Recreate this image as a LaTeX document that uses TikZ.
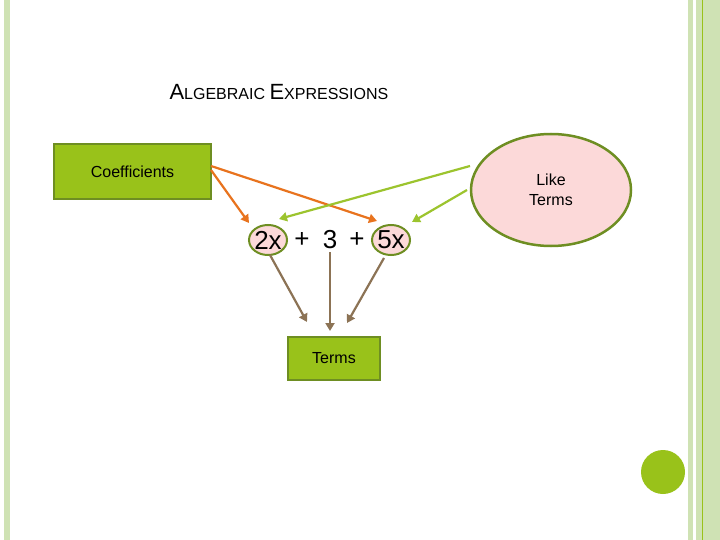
\documentclass[tikz,border=0pt]{standalone}
\usepackage{fontspec}
\setmainfont{Liberation Sans}
\usetikzlibrary{arrows.meta,shapes.geometric}
\definecolor{pg}{HTML}{CFE2B4}
\definecolor{lg}{HTML}{99C21A}
\definecolor{dg}{HTML}{6E8E22}
\definecolor{pk}{HTML}{FCD9D9}
\definecolor{og}{HTML}{E8731E}
\definecolor{ag}{HTML}{9CC42E}
\definecolor{br}{HTML}{8C7355}
\begin{document}
\begin{tikzpicture}[x=1pt,y=-1pt,
 gbox/.style={draw=dg,line width=2pt,fill=lg,inner sep=0pt,font=\fontsize{16}{18}\selectfont},
 ring/.style={draw=dg,line width=2.5pt,fill=pk,ellipse},
 oarr/.style={draw=og,line width=2.2pt,-{Triangle[length=8pt,width=9pt]}},
 garr/.style={draw=ag,line width=2.2pt,-{Triangle[length=8pt,width=9pt]}},
 barr/.style={draw=br,line width=2.2pt,-{Triangle[length=8pt,width=9pt]}}]
\useasboundingbox (0,0) rectangle (720,540);
\fill[white] (0,0) rectangle (720,540);
\fill[pg] (4,0) rectangle (10,540);
\fill[pg] (688,0) rectangle (693,540);
\fill[pg] (696,0) rectangle (720,540);
\draw[lg,line width=1pt] (702,0) -- (702,540);
\fill[lg] (663,472) circle (22);
\node[anchor=west] (title) at (166,92) {\fontsize{22}{24}\selectfont A\fontsize{16}{18}\selectfont LGEBRAIC \fontsize{22}{24}\selectfont E\fontsize{16}{18}\selectfont XPRESSIONS};
\node[gbox,minimum width=157pt,minimum height=55pt] (coef) at (132.5,171.5) {Coefficients};
\node[ring,minimum width=160pt,minimum height=112pt,align=center,font=\fontsize{16}{20}\selectfont] (like) at (551,190) {Like\\Terms};
\node[ring,line width=2pt,minimum width=38pt,minimum height=30pt,inner sep=0pt] (e2) at (268,240) {};
\node[ring,line width=2pt,minimum width=38pt,minimum height=30pt,inner sep=0pt] (e5) at (391,240) {};
\node[font=\fontsize{26}{28}\selectfont] (t2) at (268,240) {2x};
\node[font=\fontsize{26}{28}\selectfont] (p1) at (302,240) {+};
\node[font=\fontsize{26}{28}\selectfont] (t3) at (330,240) {3};
\node[font=\fontsize{26}{28}\selectfont] (p2) at (357,240) {+};
\node[font=\fontsize{26}{28}\selectfont] (t5) at (391,240) {5x};
\node[gbox,minimum width=92pt,minimum height=43pt] (terms) at (334,358.5) {Terms};
\coordinate (c1) at (211,170);
\coordinate (c2) at (211,166);
\coordinate (l1) at (470,166);
\coordinate (l2) at (467,190);
\draw[oarr] (c1) -- (249,223);
\draw[oarr] (c2) -- (377,221);
\draw[garr] (l1) -- (279,219);
\draw[garr] (l2) -- (412,222);
\draw[barr] (270,255) -- (307,322);
\draw[barr] (330,252) -- (330,331);
\draw[barr] (384,258) -- (347,323);
\end{tikzpicture}
\end{document}
